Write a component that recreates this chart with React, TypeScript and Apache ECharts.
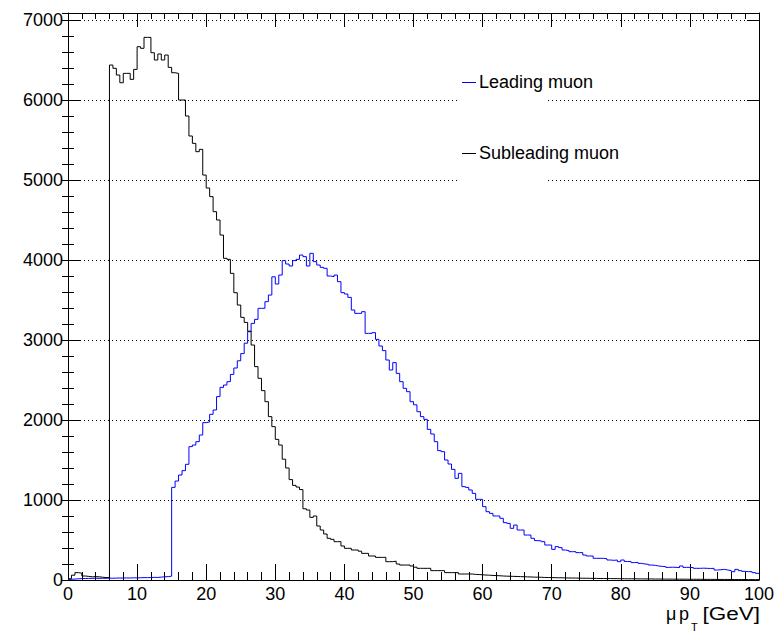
import React, { useEffect, useRef } from 'react';
import * as echarts from 'echarts';

// Histogram binning (GeV)
const BIN_WIDTH = 0.5;
const X_MIN = 0;
const X_MAX = 100;
const Y_MAX = 7087.5;

// Leading muon pT counts, 0.5 GeV bins, rows of 5 GeV
const LEADING = [
  8, 12, 15, 18, 18, 20, 20, 22, 20, 22,
  22, 24, 22, 24, 25, 24, 26, 25, 27, 26,
  28, 30, 29, 31, 33, 32, 36, 40, 42, 48,
  1158, 1237, 1312, 1367, 1446, 1667, 1687, 1729, 1812, 1967,
  1975, 2071, 2125, 2292, 2408, 2437, 2479, 2570, 2650, 2740,
  2830, 2960, 3104, 3208, 3258, 3396, 3396, 3479, 3562, 3790,
  3700, 3812, 3992, 3950, 3925, 3992, 4008, 4062, 4042, 3925,
  4083, 3979, 3937, 3908, 3896, 3800, 3792, 3812, 3729, 3592,
  3575, 3533, 3375, 3333, 3333, 3354, 3083, 3083, 3092, 3008,
  2925, 2867, 2750, 2625, 2717, 2583, 2479, 2396, 2354, 2229,
  2190, 2104, 2042, 2008, 1883, 1825, 1729, 1617, 1604, 1500,
  1450, 1383, 1271, 1333, 1167, 1158, 1125, 1083, 1008, 1008,
  917, 854, 833, 800, 800, 771, 717, 708, 646, 687,
  625, 625, 562, 562, 521, 492, 489, 479, 437, 437,
  383, 417, 405, 375, 367, 354, 354, 342, 342, 312,
  300, 300, 271, 271, 271, 265, 250, 246, 250, 229,
  250, 232, 229, 217, 220, 208, 200, 196, 187, 183,
  175, 170, 167, 158, 160, 158, 156, 175, 158, 158,
  155, 146, 146, 148, 146, 144, 146, 125, 128, 133,
  125, 117, 104, 133, 117, 108, 104, 104, 92, 83,
];

// Subleading muon pT counts, 0.5 GeV bins, rows of 5 GeV
const SUBLEADING = [
  15, 60, 92, 85, 50, 45, 40, 42, 40, 35,
  30, 30, 6437, 6396, 6312, 6216, 6333, 6333, 6258, 6383,
  6666, 6646, 6783, 6783, 6591, 6500, 6575, 6500, 6562, 6408,
  6341, 6333, 6000, 6000, 5800, 5550, 5458, 5354, 5383, 5062,
  4900, 4792, 4604, 4500, 4312, 4021, 4008, 3833, 3591, 3437,
  3283, 3220, 3110, 2937, 2667, 2521, 2367, 2229, 2042, 1917,
  1758, 1687, 1510, 1400, 1255, 1183, 1162, 1130, 890, 875,
  783, 800, 675, 625, 575, 521, 508, 479, 479, 425,
  396, 396, 375, 375, 360, 333, 333, 300, 300, 283,
  283, 283, 229, 229, 235, 200, 187, 187, 187, 175,
  160, 146, 146, 146, 146, 117, 117, 117, 117, 92,
  92, 92, 92, 75, 75, 75, 75, 70, 68, 65,
  62, 60, 57, 55, 53, 50, 48, 47, 45, 44,
  42, 41, 39, 38, 36, 35, 34, 32, 31, 30,
  29, 28, 28, 26, 25, 25, 24, 23, 22, 22,
  21, 20, 20, 19, 19, 18, 18, 17, 17, 16,
  16, 15, 15, 15, 14, 14, 13, 13, 13, 12,
  12, 12, 11, 11, 11, 10, 10, 10, 10, 9,
  9, 9, 9, 8, 8, 8, 8, 7, 7, 7,
  7, 7, 6, 6, 6, 6, 5, 5, 5, 5,
];

const SERIES_NAMES = ['Leading muon', 'Subleading muon'];
const SERIES_COLORS = ['#0000ff', '#000000'];
const X_TITLE_MU = 'μ';
const X_TITLE_P = 'p';
const X_TITLE_SUB = 'T';
const X_TITLE_UNIT = '[GeV]';

const FONT = '"Liberation Sans", Arial, Helvetica, sans-serif';

function toSteps(values: number[]): number[][] {
  const pts = values.map((v, i) => [X_MIN + i * BIN_WIDTH, v]);
  pts.push([X_MIN + values.length * BIN_WIDTH, values[values.length - 1]]);
  return pts;
}

export default function App() {
  const ref = useRef<HTMLDivElement>(null);

  useEffect(() => {
    if (!ref.current) return;
    const chart = echarts.init(ref.current, undefined, { renderer: 'svg' });

    const black = '#000';
    const xAxisBase = {
      type: 'value',
      min: X_MIN,
      max: X_MAX,
      interval: 10,
      axisLine: { show: true, onZero: false, lineStyle: { color: black, width: 1 } },
      splitLine: { show: false },
    };
    const yAxisBase = {
      type: 'value',
      min: 0,
      max: Y_MAX,
      axisLine: { show: true, onZero: false, lineStyle: { color: black, width: 1 } },
    };

    const option: any = {
      animation: false,
      backgroundColor: '#fff',
      grid: { left: 68, right: 17, top: 13, bottom: 53, containLabel: false },
      xAxis: [
        {
          ...xAxisBase,
          position: 'bottom',
          axisTick: { show: true, inside: true, length: 16, lineStyle: { color: black } },
          minorTick: { show: true, splitNumber: 5, length: 8, lineStyle: { color: black } },
          axisLabel: {
            show: true, fontSize: 18, lineHeight: 18, color: black, fontFamily: FONT, margin: 5,
            formatter: (v: number) => String(v),
          },
        },
        {
          ...xAxisBase,
          position: 'top',
          axisTick: { show: true, inside: true, length: 14, lineStyle: { color: black } },
          minorTick: { show: true, splitNumber: 5, length: 6, lineStyle: { color: black } },
          axisLabel: { show: false },
        },
      ],
      yAxis: [
        {
          ...yAxisBase,
          position: 'left',
          interval: 1000,
          axisTick: { show: true, inside: true, length: 12, lineStyle: { color: black } },
          axisLabel: {
            show: true, fontSize: 18, color: black, fontFamily: FONT, margin: 5,
            showMaxLabel: false,
            formatter: (v: number) => String(v),
          },
          splitLine: { show: true, lineStyle: { color: '#000', type: [1, 3], width: 1 } },
        },
        {
          ...yAxisBase,
          position: 'left',
          interval: 200,
          axisLine: { show: false },
          axisTick: { show: true, inside: true, length: 6, lineStyle: { color: black } },
          axisLabel: { show: false },
          splitLine: { show: false },
        },
        {
          ...yAxisBase,
          position: 'right',
          interval: 1000,
          axisTick: { show: true, inside: true, length: 12, lineStyle: { color: black } },
          axisLabel: { show: false },
          splitLine: { show: false },
        },
        {
          ...yAxisBase,
          position: 'right',
          interval: 200,
          axisLine: { show: false },
          axisTick: { show: true, inside: true, length: 6, lineStyle: { color: black } },
          axisLabel: { show: false },
          splitLine: { show: false },
        },
      ],
      series: [
        {
          name: SERIES_NAMES[0],
          type: 'line',
          step: 'end',
          xAxisIndex: 0,
          yAxisIndex: 0,
          data: toSteps(LEADING),
          showSymbol: false,
          symbol: 'none',
          lineStyle: { color: SERIES_COLORS[0], width: 1 },
          itemStyle: { color: SERIES_COLORS[0] },
          z: 3,
        },
        {
          name: SERIES_NAMES[1],
          type: 'line',
          step: 'end',
          xAxisIndex: 0,
          yAxisIndex: 0,
          data: toSteps(SUBLEADING),
          showSymbol: false,
          symbol: 'none',
          lineStyle: { color: SERIES_COLORS[1], width: 1 },
          itemStyle: { color: SERIES_COLORS[1] },
          z: 3,
        },
      ],
      graphic: [
        { type: 'rect', z: 1, shape: { x: 457, y: 58, width: 88, height: 128 }, style: { fill: '#fff' } },
        { type: 'line', z: 4, shape: { x1: 462, y1: 82.5, x2: 476, y2: 82.5 }, style: { stroke: SERIES_COLORS[0], lineWidth: 1 } },
        { type: 'text', z: 4, x: 479, y: 82, style: { text: SERIES_NAMES[0], fontSize: 18, fontFamily: FONT, fill: '#000', align: 'left', verticalAlign: 'middle' } },
        { type: 'line', z: 4, shape: { x1: 462, y1: 153.5, x2: 476, y2: 153.5 }, style: { stroke: SERIES_COLORS[1], lineWidth: 1 } },
        { type: 'text', z: 4, x: 479, y: 153, style: { text: SERIES_NAMES[1], fontSize: 18, fontFamily: FONT, fill: '#000', align: 'left', verticalAlign: 'middle' } },
        { type: 'text', z: 4, x: 666, y: 614, style: { text: X_TITLE_MU, fontSize: 18, fontFamily: FONT, fill: '#000', align: 'left', verticalAlign: 'middle' } },
        { type: 'text', z: 4, x: 679, y: 614, style: { text: X_TITLE_P, fontSize: 18, fontFamily: FONT, fill: '#000', align: 'left', verticalAlign: 'middle' } },
        { type: 'text', z: 4, x: 691, y: 627, style: { text: X_TITLE_SUB, fontSize: 11, fontFamily: FONT, fill: '#000', align: 'left', verticalAlign: 'middle' } },
        { type: 'text', z: 4, x: 760, y: 614, scaleX: 1.25, style: { text: X_TITLE_UNIT, fontSize: 18, fontFamily: FONT, fill: '#000', align: 'right', verticalAlign: 'middle' } },
      ],
    };

    chart.setOption(option);
    return () => chart.dispose();
  }, []);

  return (
    <div
      ref={ref}
      style={{ position: 'fixed', left: 0, top: 0, width: 777, height: 633, background: '#fff' }}
    />
  );
}
